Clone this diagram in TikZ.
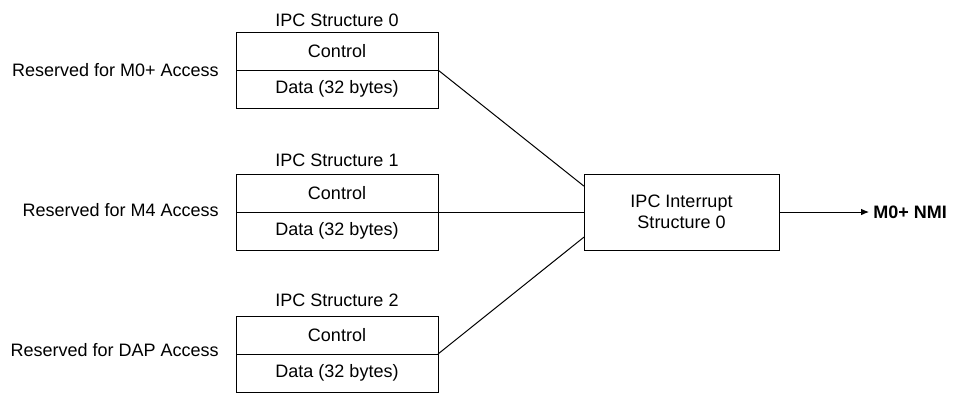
\documentclass[tikz,border=0pt]{standalone}
\usepackage{fontspec}
\setmainfont{Liberation Sans}
\usetikzlibrary{calc,arrows.meta}
\begin{document}
\begin{tikzpicture}[x=0.75pt,y=-0.75pt,
  every node/.style={font=\fontsize{13.5}{16}\selectfont},
  part/.style={draw,line width=0.75pt,minimum width=151.5pt,minimum height=28.5pt,inner sep=0pt,outer sep=0pt,anchor=north west},
  lbl/.style={inner sep=0pt},
  conn/.style={line width=0.75pt}]
\useasboundingbox (0,0) rectangle (966,394);
% structure 0
\node[part] (c0) at (236,32) {Control};
\node[part] (d0) at (c0.south west) {Data (32 bytes)};
\node[lbl] (t0) at (337,20) {IPC Structure 0};
\node[lbl,anchor=east] (r0) at (219,70) {Reserved for M0+ Access};
% structure 1
\node[part] (c1) at (236,174) {Control};
\node[part] (d1) at (c1.south west) {Data (32 bytes)};
\node[lbl] (t1) at (337,160) {IPC Structure 1};
\node[lbl,anchor=east] (r1) at (219,210.5) {Reserved for M4 Access};
% structure 2
\node[part] (c2) at (236,316) {Control};
\node[part] (d2) at (c2.south west) {Data (32 bytes)};
\node[lbl] (t2) at (337,300) {IPC Structure 2};
\node[lbl,anchor=east] (r2) at (219,350.5) {Reserved for DAP Access};
% interrupt
\node[draw,line width=0.75pt,minimum width=146.25pt,minimum height=57pt,inner sep=0pt,outer sep=0pt,align=center,anchor=north west] (ir) at (584,174) {IPC Interrupt\\Structure 0};
\node[lbl,anchor=west,font=\fontsize{13.5}{16}\selectfont\bfseries] (nmi) at (873,212) {M0+ NMI};
\coordinate (nmiin) at (869,212);
\draw[conn] (c0.south east) -- ($(ir.north west)!0.16!(ir.south west)$);
\draw[conn] (c1.south east) -- (ir.west);
\draw[conn] (c2.south east) -- ($(ir.north west)!0.83!(ir.south west)$);
\draw[conn,-{Latex[length=6pt,width=5pt]}] (ir.east) -- (nmiin);
\end{tikzpicture}
\end{document}
